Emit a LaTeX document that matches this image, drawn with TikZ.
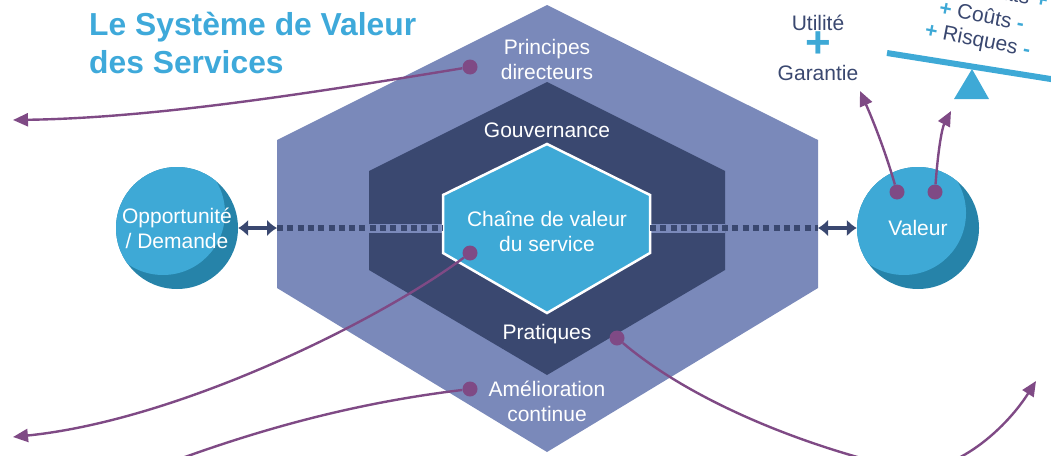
\documentclass[tikz,border=0pt]{standalone}
\usepackage{fontspec}
\setmainfont{Liberation Sans}
\usetikzlibrary{arrows.meta}
\definecolor{lav}{HTML}{7A89BA}
\definecolor{navy}{HTML}{3A4870}
\definecolor{cyanT}{HTML}{3EA9D6}
\definecolor{cyanD}{HTML}{2683A9}
\definecolor{purp}{HTML}{7F4A85}
\definecolor{titleC}{HTML}{3EA9DA}
\begin{document}
\begin{tikzpicture}[x=1pt,y=-1pt,
  lbl/.style={text=white, font=\fontsize{21}{25}\selectfont, align=center, inner sep=0},
  dark/.style={text=navy, font=\fontsize{21}{25}\selectfont, align=center, inner sep=0},
  titlefont/.style={text=titleC, font=\fontsize{31.8}{38}\selectfont\bfseries, inner sep=0, anchor=base west},
  pdot/.style={circle, fill=purp, minimum size=15pt, inner sep=0},
  conn/.style={draw=purp, line width=2.4pt},
  arr/.style={conn, -{Triangle[length=15pt,width=13pt]}},
  dbl/.style={draw=navy, line width=4.5pt, {Latex[length=10pt,width=17pt]}-{Latex[length=10pt,width=17pt]}},
  dotline/.style={draw=navy, line width=6pt, dash pattern=on 6pt off 4.3pt},
  ball/.style={circle, minimum size=122pt, inner sep=0, fill=cyanD, text=white,
    font=\fontsize{21}{25}\selectfont, align=center,
    path picture={\fill[cyanT] ([shift={(-14pt,15pt)}]path picture bounding box.center) circle (62pt);}},
  sign/.style={text=cyanT, font=\bfseries}
]
\useasboundingbox (0,0) rectangle (1051,455);

% title
\node[titlefont] (title1) at (89,35) {Le Système de Valeur};
\node[titlefont] (title2) at (89,73) {des Services};

% hexagons
\fill[lav] (547,5) -- (818,140) -- (818,288) -- (547,452) -- (277,288) -- (277,140) -- cycle;
\fill[navy] (547,82) -- (725,171) -- (725,270) -- (547,375) -- (369,270) -- (369,171) -- cycle;
\fill[lav] (369,223.5) rectangle (725,232.5);
\filldraw[fill=cyanT, draw=white, line width=2.5pt, line join=miter]
  (547,144) -- (650,195) -- (650,253) -- (547,313) -- (443,253) -- (443,195) -- cycle;

\coordinate (hexL) at (277,228);
\coordinate (hexR) at (818,228);
\coordinate (inL) at (443,228);
\coordinate (inR) at (650,228);
\draw[dotline] (hexL) -- (inL);
\draw[dotline] (inR) -- (hexR);

% labels
\node[lbl] (prin) at (547,59) {Principes\\directeurs};
\node[lbl] (gov) at (547,130) {Gouvernance};
\node[lbl] (chain) at (547,231) {Chaîne de valeur\\du service};
\node[lbl] (prat) at (547,334) {Pratiques};
\node[lbl] (amel) at (547,401) {Amélioration\\continue};

% circles
\node[ball] (opp) at (177,228) {Opportunité\\/ Demande};
\node[ball] (val) at (918,228) {Valeur};
\draw[dbl] (opp.east) -- (hexL);
\draw[dbl] (hexR) -- (val.west);

% utility / warranty
\node[dark] (util) at (818,23) {Utilité};
\node[text=cyanT, font=\fontsize{44}{44}\selectfont\bfseries, inner sep=0] (plus) at (818,45) {+};
\node[dark] (gar) at (818,73) {Garantie};

% seesaw
\coordinate (beamA) at (887,53);
\coordinate (beamB) at (1060,80.5);
\draw[cyanT, line width=6pt] (beamA) -- (beamB);
\fill[cyanT] (972,69) -- (989,99) -- (954,99) -- cycle;
\node[dark, rotate=-11] (res) at (987,-11) {{\color{cyanT}\bfseries +} Résultats {\color{cyanT}\bfseries +}};
\node[dark, rotate=-11] (cout) at (982,15) {{\color{cyanT}\bfseries +} Coûts {\color{cyanT}\bfseries -}};
\node[dark, rotate=-11] (risq) at (977.5,41) {{\color{cyanT}\bfseries +} Risques {\color{cyanT}\bfseries -}};

% purple dots
\node[pdot] (dPrin) at (470,67) {};
\node[pdot] (dChain) at (470,253) {};
\node[pdot] (dAmel) at (470,389) {};
\node[pdot] (dPrat) at (617,338) {};
\node[pdot] (dV1) at (897,192) {};
\node[pdot] (dV2) at (935,192) {};

% free ends
\coordinate (tPrin) at (13,120);
\coordinate (tChain) at (13,437);
\coordinate (eAmel) at (150,470);
\coordinate (bPrat) at (900,468);
\coordinate (tPrat) at (1036,381);
\coordinate (tV1) at (860,91);
\coordinate (tV2) at (951,111);

\draw[arr] (dPrin) .. controls (300,95) and (150,118) .. (tPrin);
\draw[arr] (dChain) .. controls (380,320) and (180,420) .. (tChain);
\draw[conn] (dAmel) .. controls (380,400) and (280,420) .. (eAmel);
\draw[arr] (dPrat) .. controls (690,400) and (800,445) .. (bPrat)
  .. controls (950,479.5) and (1005,430) .. (tPrat);
\draw[arr] (dV1) .. controls (885,150) and (872,118) .. (tV1);
\draw[arr] (dV2) .. controls (938,150) and (942,128) .. (tV2);
\end{tikzpicture}
\end{document}
